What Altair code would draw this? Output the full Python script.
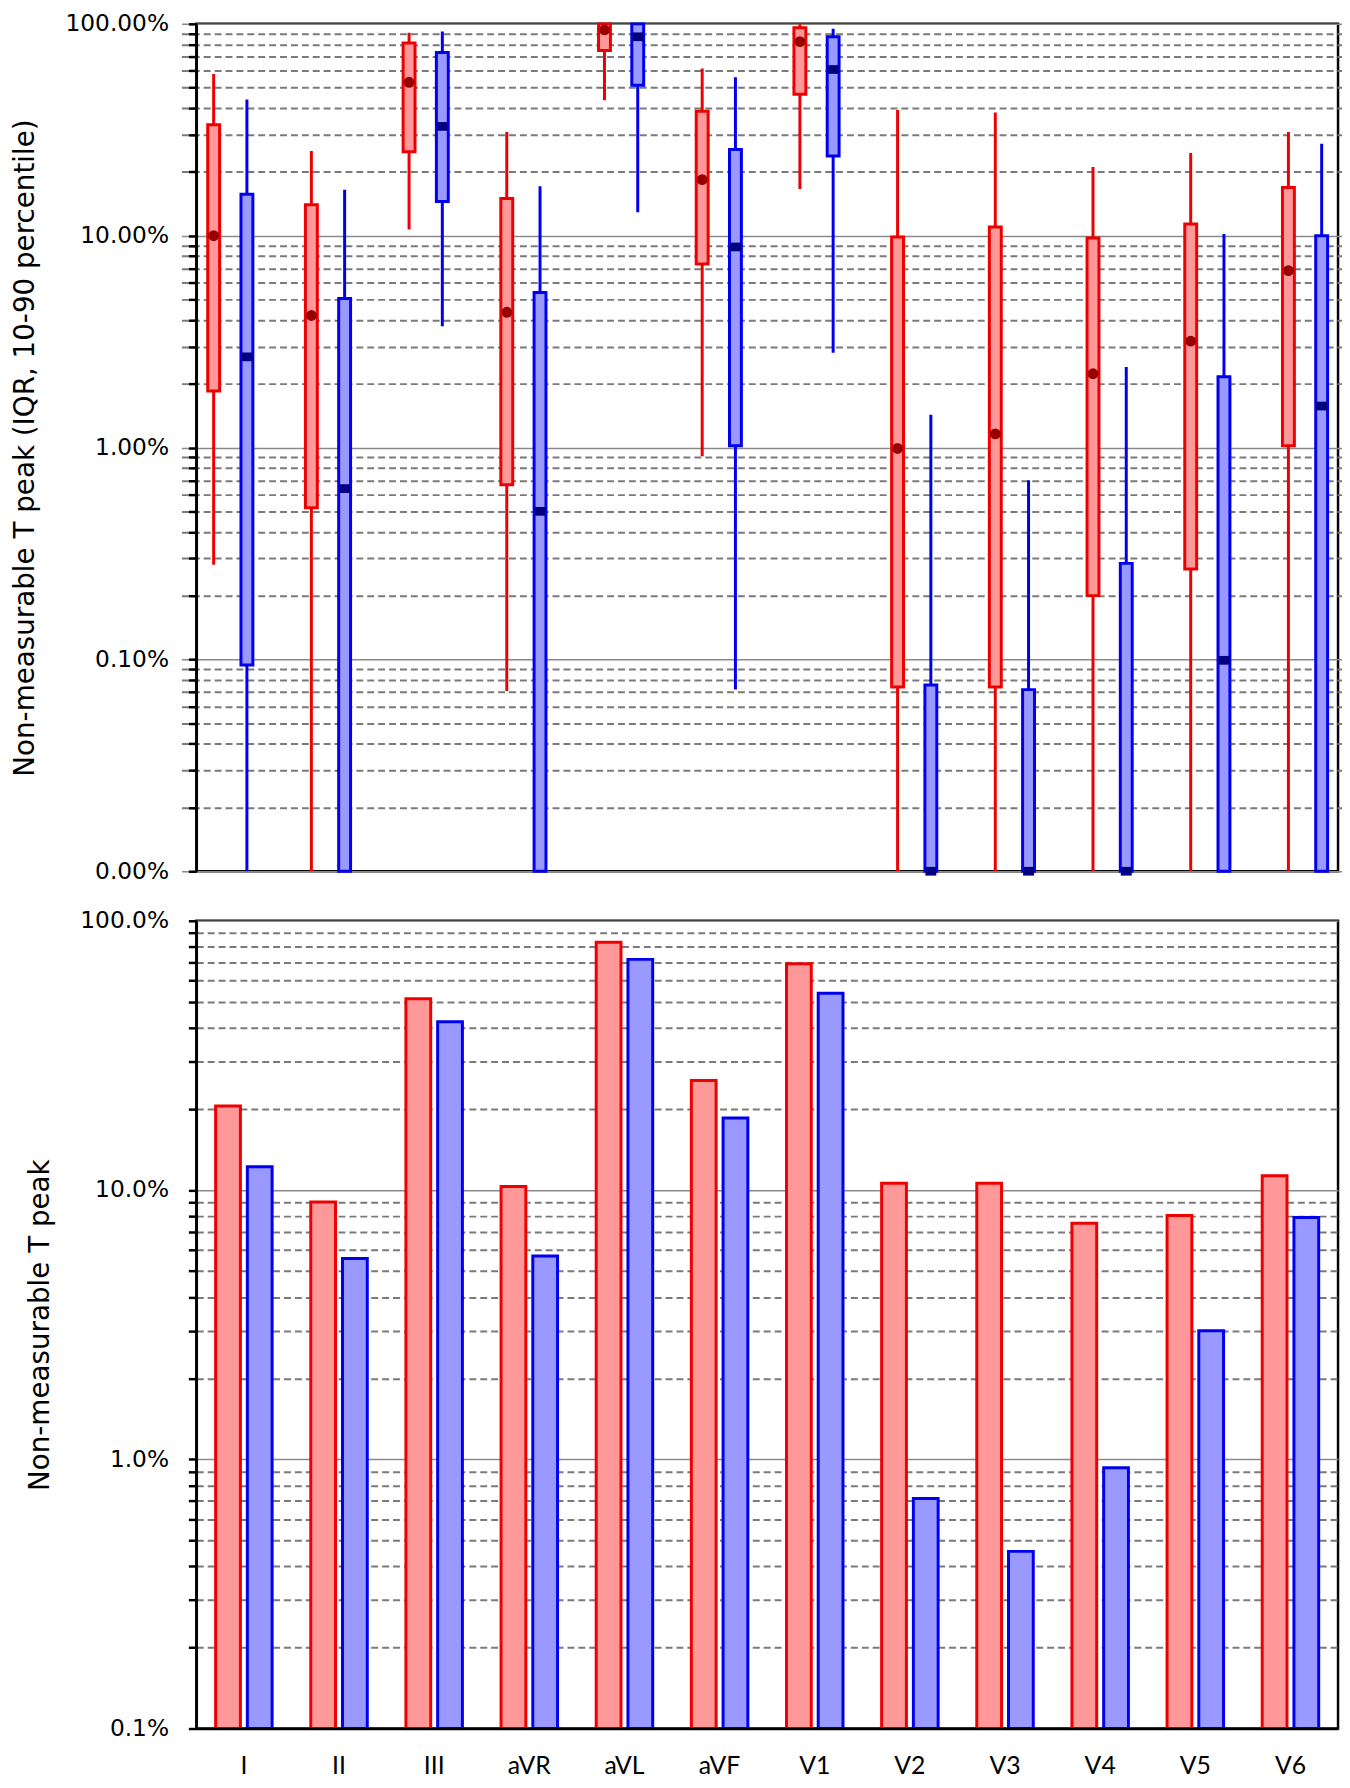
import altair as alt
import pandas as pd

LEADS = ["I", "II", "III", "aVR", "aVL", "aVF", "V1", "V2", "V3", "V4", "V5", "V6"]
GROUPS = ["Group 1", "Group 2"]  # red, blue

# ---- top panel: distribution per lead (percent) ----
RED_P10 = [0.28, 0, 10.7, 0.071, 43.6, 0.91, 16.6, 0, 0, 0, 0, 0]
RED_Q1 = [1.85, 0.52, 24.9, 0.667, 74.8, 7.36, 46.5, 0.074, 0.074, 0.20, 0.267, 1.02]
RED_MED = [10.0, 4.2, 53.0, 4.35, 93.7, 18.4, 82.4, 0.99, 1.16, 2.23, 3.18, 6.84]
RED_Q3 = [33.4, 14.0, 81.2, 15.0, 100, 38.7, 95.8, 9.85, 11.0, 9.75, 11.35, 16.9]
RED_P90 = [58.0, 25.1, 90.8, 30.9, 100, 61.5, 99.5, 39.2, 38.2, 21.1, 24.6, 30.9]

BLUE_P10 = [0, 0, 3.74, 0, 12.9, 0.072, 2.8, 0, 0, 0, 0, 0]
BLUE_Q1 = [0.094, 0, 14.5, 0, 51.3, 1.02, 23.8, 0, 0, 0, 0, 0]
BLUE_MED = [2.68, 0.64, 32.8, 0.50, 86.9, 8.85, 60.9, 0, 0, 0, 0.099, 1.57]
BLUE_Q3 = [15.7, 5.05, 73.2, 5.39, 100, 25.5, 86.9, 0.0757, 0.072, 0.284, 2.16, 10.0]
BLUE_P90 = [44.0, 16.5, 92.0, 17.1, 100, 55.9, 94.7, 1.43, 0.70, 2.40, 10.2, 27.2]

# ---- bottom panel: proportion per lead (percent) ----
RED_BAR = [20.5, 9.03, 51.3, 10.3, 83.2, 25.5, 69.2, 10.6, 10.6, 7.53, 8.05, 11.3]
BLUE_BAR = [12.2, 5.57, 42.2, 5.69, 71.9, 18.5, 53.8, 0.715, 0.455, 0.93, 3.0, 7.9]

TOP_DECADES = [0.0001, 0.001, 0.01, 0.1, 1.0]
TOP_LABELS = ["0.00%", "0.10%", "1.00%", "10.00%", "100.00%"]
BOT_DECADES = [0.001, 0.01, 0.1, 1.0]
BOT_LABELS = ["0.1%", "1.0%", "10.0%", "100.0%"]

RED, BLUE = "#ee0000", "#0000ee"
RED_FILL, BLUE_FILL = "#ff9999", "#9999ff"
RED_MED_C, BLUE_MED_C = "#990000", "#000080"

rows = []
for g, p10, q1, med, q3, p90 in [
    (GROUPS[0], RED_P10, RED_Q1, RED_MED, RED_Q3, RED_P90),
    (GROUPS[1], BLUE_P10, BLUE_Q1, BLUE_MED, BLUE_Q3, BLUE_P90),
]:
    for i, lead in enumerate(LEADS):
        rows.append({"lead": lead, "group": g, "p10": p10[i] / 100, "q1": q1[i] / 100,
                     "med": med[i] / 100, "q3": q3[i] / 100, "p90": p90[i] / 100})
df_box = pd.DataFrame(rows)

rows = []
for g, vals in [(GROUPS[0], RED_BAR), (GROUPS[1], BLUE_BAR)]:
    for i, lead in enumerate(LEADS):
        rows.append({"lead": lead, "group": g, "val": vals[i] / 100})
df_bar = pd.DataFrame(rows)


def minor_ticks(decades):
    vals = []
    for d in decades[:-1]:
        for k in range(1, 10):
            vals.append(d if k == 1 else round(k * d, 10))
    vals.append(decades[-1])
    return vals


def make_axis(decades, labels, title):
    dec_js = "[" + ",".join(repr(v) for v in decades) + "]"
    lab_js = "[" + ",".join("'" + s + "'" for s in labels) + "]"
    is_dec = f"indexof({dec_js}, datum.value) >= 0"
    return alt.Axis(
        values=minor_ticks(decades),
        labelExpr=f"{is_dec} ? {lab_js}[indexof({dec_js}, datum.value)] : ''",
        grid=True,
        gridColor={"condition": {"test": is_dec, "value": "#8a8a8a"}, "value": "#7a7a7a"},
        gridDash={"condition": {"test": is_dec, "value": []}, "value": [7, 4]},
        gridWidth={"condition": {"test": is_dec, "value": 1.5}, "value": 2},
        tickSize=8,
        tickWidth=2.5,
        tickColor="black",
        domainColor="black",
        domainWidth=2.5,
        labelFont="DejaVu Sans",
        labelFontSize=23.5,
        labelColor="black",
        labelPadding=20,
        labelOverlap=False,
        title=title,
        titleFont="DejaVu Sans",
        titleFontSize=28,
        titleFontWeight="normal",
        titleColor="black",
        titlePadding=26,
    )


top_axis = make_axis(TOP_DECADES, TOP_LABELS, "Non-measurable T peak (IQR, 10-90 percentile)")
bot_axis = make_axis(BOT_DECADES, BOT_LABELS, "Non-measurable T peak")

top_y_scale = alt.Scale(type="log", domain=[TOP_DECADES[0], TOP_DECADES[-1]], nice=False)
bot_y_scale = alt.Scale(type="log", domain=[BOT_DECADES[0], BOT_DECADES[-1]], nice=False)

stroke_enc = alt.Stroke("group:N", scale=alt.Scale(domain=GROUPS, range=[RED, BLUE]), legend=None)
fill_enc = alt.Fill("group:N", scale=alt.Scale(domain=GROUPS, range=[RED_FILL, BLUE_FILL]), legend=None)

top_x = alt.X("lead:N", sort=LEADS, axis=None,
              scale=alt.Scale(range=[-15, 1168], paddingInner=0, paddingOuter=0))
top_xo = alt.XOffset("group:N", sort=GROUPS, scale=alt.Scale(paddingInner=0.642, paddingOuter=0.79))

floor = TOP_DECADES[0]
base_top = alt.Chart(df_box).transform_calculate(
    p10f=f"max(datum.p10, {floor})",
    q1f=f"max(datum.q1, {floor})",
    medf=f"max(datum.med, {floor})",
    q3f=f"max(datum.q3, {floor})",
    p90f=f"max(datum.p90, {floor})",
)

whisker = base_top.mark_rule(strokeWidth=3).encode(
    x=top_x, xOffset=top_xo,
    y=alt.Y("p10f:Q", scale=top_y_scale, axis=top_axis),
    y2="p90f:Q",
    stroke=stroke_enc,
)
box = base_top.mark_bar(strokeWidth=3).encode(
    x=top_x, xOffset=top_xo,
    y=alt.Y("q1f:Q", scale=top_y_scale, axis=top_axis),
    y2="q3f:Q",
    fill=fill_enc,
    stroke=stroke_enc,
)
median = base_top.mark_point(filled=True, size=121, opacity=1, strokeWidth=0).encode(
    x=top_x, xOffset=top_xo,
    y=alt.Y("medf:Q", scale=top_y_scale, axis=top_axis),
    color=alt.Color("group:N", scale=alt.Scale(domain=GROUPS, range=[RED_MED_C, BLUE_MED_C]), legend=None),
    shape=alt.Shape("group:N", scale=alt.Scale(domain=GROUPS, range=["circle", "M-1,-0.8H1V0.8H-1Z"]), legend=None),
)
top = alt.layer(whisker, box, median).properties(width=1152, height=855)

bottom = alt.Chart(df_bar).mark_bar(strokeWidth=3).encode(
    x=alt.X("lead:N", sort=LEADS,
            scale=alt.Scale(paddingInner=0, paddingOuter=0),
            axis=alt.Axis(title=None, ticks=False, tickSize=0, labelAngle=0,
                          labelFont="Lato", labelFontSize=25, labelColor="black",
                          labelPadding=25, domainColor="black", domainWidth=2.5, zindex=1)),
    xOffset=alt.XOffset("group:N", sort=GROUPS, scale=alt.Scale(paddingInner=0.219, paddingOuter=0.609)),
    y=alt.Y("val:Q", scale=bot_y_scale, axis=bot_axis),
    y2=alt.datum(BOT_DECADES[0]),
    fill=fill_enc,
    stroke=stroke_enc,
).properties(width=1152, height=815)

chart = alt.vconcat(top, bottom, spacing=23).resolve_scale(
    x="independent", y="independent", xOffset="independent"
).properties(
    padding={"left": 2, "top": -6, "right": 2, "bottom": 0}
).configure_view(stroke="black", strokeWidth=2.5)

chart.save("out.html", embed_options={"renderer": "svg", "actions": False})
